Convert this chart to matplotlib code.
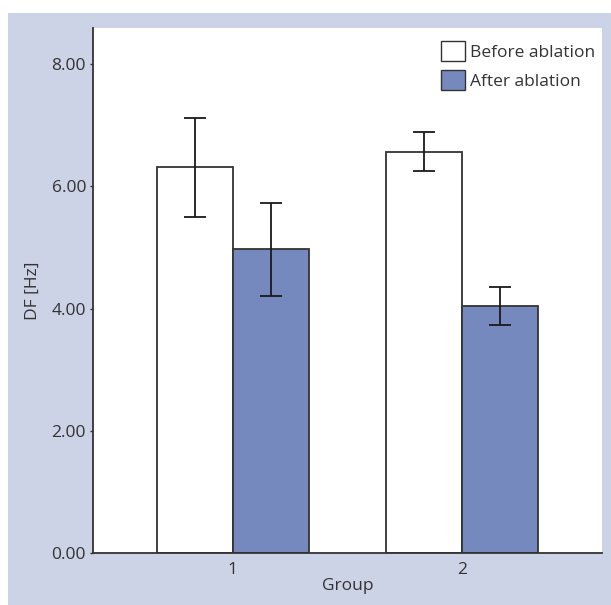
import matplotlib
matplotlib.use("Agg")
import matplotlib.pyplot as plt
from matplotlib.patches import Rectangle, Patch
from matplotlib.ticker import FormatStrFormatter
import numpy as np

groups = ["1", "2"]
series_names = ["Before ablation", "After ablation"]
before_vals = [6.31, 6.57]
before_err = [0.815, 0.32]
after_vals = [4.97, 4.05]
after_err = [0.76, 0.31]
yticks = [0, 2, 4, 6, 8]

plt.rcParams['font.family'] = ['Open Sans', 'DejaVu Sans']

W, H = 611, 605
fig = plt.figure(figsize=(W / 100, H / 100), dpi=100)
fig.patch.set_facecolor('white')

lav = '#cdd3e6'
blue = '#7689be'
edge = '#333333'
fs = 12.5

fig.patches.append(Rectangle((8 / W, 0), 1 - 8 / W, (H - 13) / H,
                             transform=fig.transFigure, facecolor=lav,
                             edgecolor='none', zorder=-10))

ax = fig.add_axes([93 / W, (H - 553.3) / H, (602 - 93) / W, (553.3 - 28) / H])
ax.set_zorder(1)
ax.set_facecolor('white')

x = np.arange(1, len(groups) + 1)
bw = 0.332
ekw = dict(ecolor='#1a1a1a', elinewidth=1.3, capsize=8, capthick=1.3)
ax.bar(x - bw / 2, before_vals, bw, color='white', edgecolor=edge, linewidth=1.3,
       yerr=before_err, error_kw=ekw, label=series_names[0], zorder=2)
ax.bar(x + bw / 2, after_vals, bw, color=blue, edgecolor=edge, linewidth=1.3,
       yerr=after_err, error_kw=ekw, label=series_names[1], zorder=2)

ax.set_xlim(0.39, 2.61)
ax.set_ylim(0, 8.59)
ax.set_xticks(x)
ax.set_xticklabels(groups)
ax.set_yticks(yticks)
ax.yaxis.set_major_formatter(FormatStrFormatter('%.2f'))
for s in ['top', 'right']:
    ax.spines[s].set_visible(False)
for s in ['left', 'bottom']:
    ax.spines[s].set_color(edge)
    ax.spines[s].set_linewidth(1.3)
ax.tick_params(axis='y', length=2.5, width=1, color=edge, labelsize=fs,
               labelcolor='#333333', pad=2.5)
ax.tick_params(axis='x', length=0, labelsize=fs, labelcolor='#333333', pad=6)
ax.set_ylabel('DF [Hz]', fontsize=fs, color='#333333', labelpad=8)
ax.set_xlabel('Group', fontsize=fs, color='#333333', labelpad=0)

handles = [Patch(facecolor='white', edgecolor=edge, linewidth=1.0),
           Patch(facecolor=blue, edgecolor=edge, linewidth=1.0)]
leg = ax.legend(handles, series_names, loc='upper right', frameon=False,
                fontsize=fs, handlelength=1.35, handleheight=1.4,
                handletextpad=0.3, labelspacing=0.5,
                bbox_to_anchor=(1.012, 1.0), borderaxespad=0.35)
for t in leg.get_texts():
    t.set_color('#333333')

fig.savefig('out.png', dpi=100, facecolor='white')
